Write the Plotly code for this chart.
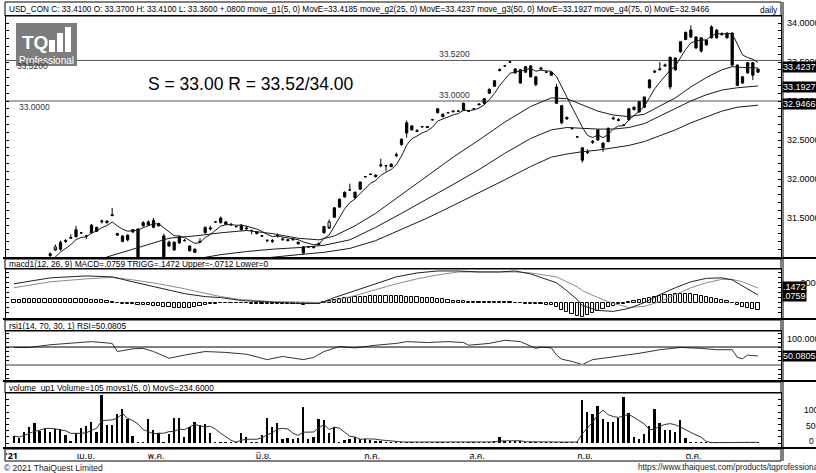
import plotly.graph_objects as go
import pandas as pd

W, H = 816, 473


def px(x):
    return x / W


def py(y):
    return 1 - y / H


# ---------------- data ----------------
opens = [30.76, 30.78, 30.83, 30.84, 30.88, 30.90, 30.94, 31.02, 31.13, 31.10,
         31.20, 31.24, 31.26, 31.31, 31.27, 31.31, 31.33, 31.45, 31.44, 31.53,
         31.28, 31.20, 31.22, 31.32, 30.90, 31.40, 31.41, 31.38, 31.40, 30.90,
         31.14, 31.09, 31.18, 31.21, 31.08, 31.06, 31.19, 31.31, 31.36, 31.45,
         31.44, 31.42, 31.41, 31.39, 31.35, 31.36, 31.34, 31.30, 31.27, 31.21,
         31.20, 31.27, 31.22, 31.21, 31.22, 31.17, 31.05, 31.13, 31.12, 31.16,
         31.31, 31.45, 31.51, 31.64, 31.77, 31.86, 31.76, 31.87, 32.03, 32.06,
         32.03, 32.17, 32.17, 32.16, 32.30, 32.44, 32.59, 32.63, 32.61, 32.67,
         32.66, 32.76, 32.85, 32.80, 32.85, 32.86, 32.87, 32.88, 32.87, 32.90,
         32.95, 32.97, 33.10, 33.19, 33.39, 33.45, 33.50, 33.36, 33.23, 33.37,
         33.31, 33.21, 33.41, 33.37, 33.33, 32.97, 32.72, 32.77, 32.65, 32.54,
         32.24, 32.34, 32.47, 32.50, 32.40, 32.48, 32.77, 32.75, 32.69, 32.76,
         32.89, 32.86, 32.92, 33.17, 33.37, 33.40, 33.45, 33.18, 33.40, 33.63,
         33.79, 33.82, 33.68, 33.64, 33.72, 33.81, 33.81, 33.85, 33.81, 33.46,
         33.20, 33.23, 33.36, 33.33, 33.37]
highs = [30.80, 30.84, 30.86, 30.89, 30.92, 30.95, 30.98, 31.06, 31.16, 31.21,
         31.23, 31.29, 31.40, 31.32, 31.28, 31.42, 31.39, 31.48, 31.47, 31.63,
         31.31, 31.28, 31.29, 31.36, 31.37, 31.46, 31.47, 31.50, 31.44, 31.30,
         31.21, 31.20, 31.28, 31.23, 31.15, 31.11, 31.24, 31.39, 31.40, 31.46,
         31.52, 31.46, 31.43, 31.40, 31.42, 31.40, 31.35, 31.33, 31.28, 31.23,
         31.23, 31.30, 31.25, 31.23, 31.24, 31.20, 31.14, 31.14, 31.14, 31.19,
         31.40, 31.48, 31.64, 31.75, 31.84, 31.94, 31.84, 31.97, 32.04, 32.07,
         32.06, 32.26, 32.18, 32.20, 32.34, 32.52, 32.75, 32.69, 32.64, 32.68,
         32.68, 32.77, 32.91, 32.84, 32.86, 32.88, 32.88, 32.98, 32.88, 32.91,
         32.97, 33.04, 33.16, 33.27, 33.42, 33.46, 33.51, 33.42, 33.41, 33.45,
         33.46, 33.32, 33.44, 33.38, 33.38, 33.22, 32.95, 32.80, 32.66, 32.55,
         32.41, 32.38, 32.50, 32.64, 32.47, 32.66, 32.80, 32.78, 32.70, 32.91,
         32.93, 33.00, 33.06, 33.28, 33.40, 33.50, 33.48, 33.57, 33.56, 33.77,
         33.89, 33.97, 33.83, 33.82, 33.79, 33.97, 33.92, 33.88, 33.88, 33.88,
         33.47, 33.32, 33.50, 33.50, 33.41]
lows = [30.74, 30.77, 30.80, 30.83, 30.86, 30.89, 30.93, 31.00, 31.08, 31.08,
        31.18, 31.24, 31.25, 31.30, 31.23, 31.30, 31.32, 31.43, 31.43, 31.53,
        31.27, 31.19, 31.20, 31.31, 30.88, 31.39, 31.40, 31.37, 31.39, 30.88,
        31.13, 31.08, 31.17, 31.20, 31.07, 31.05, 31.18, 31.30, 31.34, 31.44,
        31.43, 31.41, 31.40, 31.38, 31.34, 31.35, 31.29, 31.29, 31.26, 31.19,
        31.18, 31.25, 31.21, 31.20, 31.21, 31.16, 31.03, 31.12, 31.11, 31.15,
        31.30, 31.36, 31.50, 31.63, 31.76, 31.85, 31.75, 31.86, 32.02, 32.05,
        32.02, 32.15, 32.10, 32.15, 32.28, 32.43, 32.53, 32.62, 32.60, 32.66,
        32.66, 32.75, 32.84, 32.79, 32.84, 32.86, 32.86, 32.87, 32.86, 32.89,
        32.95, 32.96, 33.09, 33.18, 33.38, 33.44, 33.49, 33.35, 33.22, 33.36,
        33.30, 33.19, 33.40, 33.36, 33.32, 32.96, 32.70, 32.76, 32.63, 32.53,
        32.21, 32.32, 32.45, 32.49, 32.35, 32.47, 32.76, 32.74, 32.68, 32.75,
        32.88, 32.85, 32.91, 33.16, 33.36, 33.39, 33.44, 33.15, 33.39, 33.62,
        33.78, 33.81, 33.67, 33.62, 33.71, 33.80, 33.80, 33.84, 33.80, 33.44,
        33.19, 33.22, 33.35, 33.27, 33.36]
closes = [30.78, 30.83, 30.84, 30.88, 30.90, 30.94, 30.97, 31.04, 31.09, 31.19,
          31.21, 31.25, 31.35, 31.31, 31.27, 31.41, 31.38, 31.46, 31.46, 31.54,
          31.30, 31.27, 31.28, 31.35, 31.36, 31.44, 31.45, 31.47, 31.43, 31.27,
          31.19, 31.19, 31.26, 31.21, 31.14, 31.10, 31.20, 31.38, 31.37, 31.45,
          31.50, 31.45, 31.42, 31.39, 31.41, 31.37, 31.34, 31.32, 31.27, 31.21,
          31.21, 31.28, 31.23, 31.22, 31.23, 31.19, 31.13, 31.13, 31.13, 31.17,
          31.39, 31.37, 31.63, 31.74, 31.83, 31.86, 31.83, 31.96, 32.03, 32.06,
          32.05, 32.18, 32.17, 32.19, 32.31, 32.51, 32.72, 32.68, 32.62, 32.67,
          32.67, 32.76, 32.90, 32.83, 32.85, 32.87, 32.87, 32.97, 32.87, 32.90,
          32.96, 33.03, 33.15, 33.26, 33.40, 33.45, 33.50, 33.41, 33.40, 33.44,
          33.45, 33.31, 33.42, 33.37, 33.37, 33.18, 32.94, 32.79, 32.65, 32.54,
          32.40, 32.35, 32.48, 32.63, 32.46, 32.65, 32.78, 32.76, 32.69, 32.90,
          32.92, 32.99, 33.05, 33.27, 33.38, 33.41, 33.46, 33.56, 33.55, 33.76,
          33.88, 33.91, 33.82, 33.81, 33.78, 33.95, 33.91, 33.86, 33.87, 33.87,
          33.46, 33.31, 33.49, 33.49, 33.41]
volumes = [2260, 1610, 3550, 5160, 6450, 3870, 4520, 3550, 4520, 4520,
           2580, 400, 3230, 4840, 5480, 6770, 3550, 15480, 5810, 5810,
           9350, 10970, 7740, 2260, 300, 300, 7740, 4190, 3230, 300,
           2900, 8060, 8060, 1940, 5160, 6770, 5810, 6130, 3230, 300,
           300, 300, 300, 300, 3230, 1940, 300, 300, 2580, 8060,
           5160, 6450, 1290, 1610, 1290, 1610, 11610, 1290, 1940, 7740,
           7420, 3230, 5160, 320, 970, 1290, 1940, 1290, 1290, 970,
           650, 650, 320, 300, 300, 300, 300, 300, 300, 300,
           300, 300, 300, 300, 300, 300, 300, 300, 300, 300,
           300, 300, 300, 500, 1940, 500, 400, 400, 400, 300,
           300, 300, 300, 300, 300, 300, 300, 300, 300, 300,
           13870, 10000, 9350, 11940, 7740, 6770, 6770, 8060, 14840, 9680,
           1940, 1290, 2900, 5480, 10970, 6450, 4190, 4190, 3550, 7420,
           1610, 200, 150, 100, 150, 120, 100, 300, 250, 300,
           250, 300, 200, 318, 105]
bars = list(range(len(closes)))

# moving-average lines (bar index, value)
ema25_idx = [14, 18, 22, 26, 30, 35, 40, 45, 50, 55, 59, 62, 66, 70, 75, 80, 85, 90, 95,
             100, 104, 107, 110, 113, 116, 119, 122, 125, 128, 131, 134, 137, 139, 141, 144]
ema25_val = [30.92, 31.00, 31.09, 31.17, 31.24, 31.27, 31.31, 31.34, 31.30, 31.24, 31.22,
             31.27, 31.40, 31.56, 31.80, 32.04, 32.28, 32.50, 32.73, 32.93, 33.04, 33.03,
             32.95, 32.87, 32.82, 32.80, 32.83, 32.93, 33.04, 33.18, 33.30, 33.40, 33.44,
             33.43, 33.4237]
ema50_idx = [33, 37, 40, 45, 50, 55, 60, 65, 70, 75, 80, 85, 90, 95, 100, 104, 107, 110,
             113, 116, 119, 122, 125, 128, 131, 134, 137, 140, 144]
ema50_val = [30.95, 31.00, 31.03, 31.07, 31.10, 31.12, 31.15, 31.22, 31.38, 31.56, 31.74,
             31.93, 32.12, 32.33, 32.52, 32.63, 32.66, 32.65, 32.64, 32.64, 32.66, 32.71,
             32.81, 32.91, 33.00, 33.08, 33.14, 33.17, 33.1927]
ema75_idx = [46, 50, 55, 60, 65, 70, 75, 80, 85, 90, 95, 100, 104, 107, 110, 113, 116, 119,
             122, 125, 128, 131, 134, 137, 140, 144]
ema75_val = [30.97, 31.00, 31.03, 31.06, 31.11, 31.21, 31.35, 31.50, 31.66, 31.82, 31.99,
             32.16, 32.28, 32.32, 32.35, 32.37, 32.40, 32.43, 32.48, 32.55, 32.63, 32.72,
             32.80, 32.87, 32.92, 32.9466]

# MACD panel
macd_idx = [0, 7, 14, 19, 23, 28, 33, 37, 40, 44, 50, 55, 59, 62, 66, 70, 74, 78, 82, 86,
            90, 94, 97, 100, 103, 105, 107, 109, 110, 113, 116, 119, 122, 125, 128, 131,
            134, 137, 139, 141, 144]
macd_val = [0.19, 0.25, 0.27, 0.26, 0.21, 0.15, 0.09, 0.06, 0.05, 0.02, 0.00, -0.01, -0.01,
            0.05, 0.12, 0.19, 0.26, 0.30, 0.32, 0.32, 0.31, 0.31, 0.32, 0.29, 0.24, 0.20,
            0.12, 0.03, -0.03, -0.08, -0.09, -0.06, 0.00, 0.08, 0.15, 0.21, 0.245, 0.25,
            0.23, 0.17, 0.0759]
trigg_val = [0.15, 0.21, 0.24, 0.255, 0.23, 0.19, 0.14, 0.09, 0.06, 0.03, 0.01, 0.005, 0.00,
             0.02, 0.07, 0.13, 0.19, 0.24, 0.28, 0.31, 0.31, 0.31, 0.31, 0.30, 0.28, 0.26,
             0.21, 0.16, 0.12, 0.05, -0.01, -0.05, -0.04, 0.01, 0.08, 0.15, 0.20, 0.235,
             0.235, 0.21, 0.1472]
macd_hist = [0.03, 0.03, 0.035, 0.035, 0.04, 0.04,
             0.04, 0.04, 0.04, 0.04, 0.04, 0.04, 0.04,
             0.035, 0.035, 0.03, 0.03, 0.025, 0.02, 0.01, 0.0,
             -0.01, -0.015, -0.02, -0.025, -0.03, -0.03, -0.035, -0.04, -0.045, -0.05,
             -0.055, -0.06, -0.06, -0.055, -0.05,
             -0.04, -0.03, -0.02, -0.01,
             0, 0, 0, 0, 0,
             -0.005, -0.01, -0.01, -0.015, -0.015, -0.02, -0.02, -0.02, -0.02, -0.02,
             -0.02, -0.025, -0.02, -0.02, -0.01,
             0.01, 0.02, 0.03, 0.04, 0.05, 0.05, 0.06, 0.06, 0.06, 0.065, 0.07, 0.07,
             0.07, 0.07, 0.065, 0.065,
             0.06, 0.06, 0.055, 0.05, 0.05, 0.045, 0.04, 0.035, 0.03,
             0.02, 0.02, 0.015, 0.01, 0.01, 0.01, 0.005, 0.005, 0.005, 0.005, 0.005,
             0.005, 0.0,
             -0.005, -0.01, -0.01, -0.015, -0.02, -0.025, -0.03,
             -0.05, -0.08, -0.10, -0.12, -0.14, -0.15, -0.13,
             -0.11, -0.09, -0.07, -0.05, -0.035, -0.02, -0.01,
             0.01, 0.02, 0.03, 0.04, 0.05, 0.06,
             0.07, 0.075, 0.08, 0.085, 0.09, 0.09, 0.085, 0.08, 0.07,
             0.06, 0.05, 0.04, 0.03, 0.015, 0.0,
             -0.03, -0.045, -0.055, -0.065, -0.0713]

# RSI panel
rsi_idx = [0, 3, 7, 12, 15, 19, 20, 23, 25, 27, 30, 33, 37, 41, 45, 49, 52, 56, 58, 60,
           63, 66, 70, 74, 76, 80, 84, 87, 88, 92, 95, 98, 101, 102, 104, 105, 106, 108,
           110, 112, 117, 121, 125, 129, 133, 136, 139, 140, 141, 142, 143, 144]
rsi_val = [69, 69, 75, 80, 82, 78, 60, 66, 67, 60, 45, 52, 60, 58, 54, 42, 49, 42, 47, 60,
           71, 68, 74, 78, 82, 80, 82, 80, 74, 78, 85, 82, 67, 70, 68, 52, 43, 38,
           31, 42, 49, 56, 64, 69, 67, 64, 64, 47, 44, 52, 51, 50.08]

# axis labels (bar index positions of the month labels)
month_pos = [-0.45, 13.9, 27.5, 48.3, 69.3, 89.6, 110.5, 131.5]
month_text = ["<b>'21</b>", "เม.ย.", "พ.ค.", "มิ.ย.", "ก.ค.", "ส.ค.", "ก.ย.", "ต.ค."]
price_ticks = [34.0, 33.5, 33.0, 32.5, 32.0, 31.5]
support, resistance = 33.00, 33.52

# ---------------- derived lines (chart definitions) ----------------
ema5 = pd.Series(closes).ewm(span=5, adjust=False).mean().tolist()
vol_ma5 = pd.Series(volumes).rolling(5, min_periods=1).mean().tolist()

# ---------------- figure ----------------
FN = "Liberation Sans, Arial, sans-serif"
FA = "Liberation Sans, Arial, sans-serif"
LINE = "#1a1a1a"
X_RANGE = [-1.548, 148.45]

fig = go.Figure()

fig.add_trace(go.Candlestick(
    x=bars, open=opens, high=highs, low=lows, close=closes,
    increasing=dict(line=dict(color="black", width=1), fillcolor="black"),
    decreasing=dict(line=dict(color="black", width=1), fillcolor="white"),
    whiskerwidth=0, xaxis="x", yaxis="y", hoverinfo="skip", showlegend=False))
fig.add_trace(go.Scatter(x=bars, y=ema5, mode="lines", line=dict(color=LINE, width=1),
                         xaxis="x", yaxis="y", hoverinfo="skip"))
for ix, vals in ((ema25_idx, ema25_val), (ema50_idx, ema50_val), (ema75_idx, ema75_val)):
    fig.add_trace(go.Scatter(x=ix, y=vals, mode="lines", line=dict(color=LINE, width=1),
                             xaxis="x", yaxis="y", hoverinfo="skip"))

# MACD
fig.add_trace(go.Bar(x=bars, y=macd_hist, width=0.62,
                     marker=dict(color="white", line=dict(color="black", width=1)),
                     xaxis="x2", yaxis="y2", hoverinfo="skip"))
fig.add_trace(go.Scatter(x=macd_idx, y=trigg_val, mode="lines", line=dict(color="#8c8c8c", width=1),
                         xaxis="x2", yaxis="y2", hoverinfo="skip"))
fig.add_trace(go.Scatter(x=macd_idx, y=macd_val, mode="lines", line=dict(color="#222", width=1),
                         xaxis="x2", yaxis="y2", hoverinfo="skip"))

# RSI
fig.add_trace(go.Scatter(x=rsi_idx, y=rsi_val, mode="lines", line=dict(color="#333", width=1),
                         xaxis="x3", yaxis="y3", hoverinfo="skip"))

# Volume
fig.add_trace(go.Bar(x=bars, y=volumes, width=0.36, marker=dict(color="black", line=dict(width=0)),
                     xaxis="x4", yaxis="y4", hoverinfo="skip"))
fig.add_trace(go.Scatter(x=bars, y=vol_ma5, mode="lines", line=dict(color="#333", width=1),
                         xaxis="x4", yaxis="y4", hoverinfo="skip"))


def xa(anchor, **kw):
    d = dict(domain=[px(6), px(781)], range=X_RANGE, showline=True, linecolor="black", linewidth=1,
             mirror=True, ticks="", showticklabels=False, showgrid=False, zeroline=False,
             anchor=anchor, fixedrange=True)
    d.update(kw)
    return d


def ya(top, bottom, rng, dtick, tick0, **kw):
    d = dict(domain=[py(bottom), py(top)], range=rng, showline=True, linecolor="black", linewidth=1,
             mirror="ticks", ticks="inside", ticklen=3, tickcolor="black", dtick=dtick, tick0=tick0,
             showticklabels=False, showgrid=False, zeroline=False, side="right", fixedrange=True)
    d.update(kw)
    return d


fig.update_layout(
    width=W, height=H, margin=dict(l=0, r=0, t=0, b=0),
    paper_bgcolor="white", plot_bgcolor="white", showlegend=False, boxgap=0.38,
    bargap=0,
    xaxis=xa("y", rangeslider=dict(visible=False)),
    yaxis=ya(16, 257, [31.0, 34.0897], 0.1, 31.0, anchor="x"),
    xaxis2=xa("y2", matches="x"),
    yaxis2=ya(269, 318, [-0.157, 0.340], 0.05, 0.0, anchor="x2"),
    xaxis3=xa("y3", matches="x"),
    yaxis3=ya(331, 380, [-3.3, 105.6], 10, 0, anchor="x3"),
    xaxis4=xa("y4", matches="x", tickvals=month_pos, ticktext=month_text, showticklabels=True,
              tickfont=dict(family="Noto Sans Thai, Loma, Tahoma, sans-serif", size=9, color="black")),
    yaxis4=ya(393, 447, [-1290, 16130], 2000, 0, anchor="x4"),
)

shapes = []


def hline_px(y, x0=3, x1=816, w=1, color="black"):
    shapes.append(dict(type="line", xref="paper", yref="paper", x0=px(x0), x1=px(x1), y0=py(y), y1=py(y),
                       line=dict(color=color, width=w)))


def rect_px(x0, y0, x1, y1, fill=None, lc="black", lw=1, layer="above"):
    shapes.append(dict(type="rect", xref="paper", yref="paper", x0=px(x0), x1=px(x1), y0=py(y1), y1=py(y0),
                       fillcolor=fill if fill else "rgba(0,0,0,0)", line=dict(color=lc, width=lw), layer=layer))


# support / resistance lines
for lvl in (resistance, support):
    shapes.append(dict(type="line", xref="paper", yref="y", x0=px(6), x1=px(781), y0=lvl, y1=lvl,
                       line=dict(color="#555", width=1), layer="below"))
# title boxes
rect_px(5, 2, 781, 16)
rect_px(5, 259, 781, 269)
rect_px(5, 320, 781, 331)
rect_px(5, 382, 781, 393)
rect_px(5, 449, 781, 461)
# separators
for yy in (258, 319, 381, 448):
    hline_px(yy, 3, 816, 2)
# right column divider
shapes.append(dict(type="line", xref="paper", yref="paper", x0=px(783), x1=px(783), y0=py(461), y1=py(2),
                   line=dict(color="black", width=1)))
# RSI reference lines
for lvl, col, wd in ((70, "black", 1), (30, "#9a9a9a", 2)):
    shapes.append(dict(type="line", xref="paper", yref="y3", x0=px(6), x1=px(781), y0=lvl, y1=lvl,
                       line=dict(color=col, width=wd)))
# logo
rect_px(16, 23, 77, 66, fill="#7d7d7d", lc="#7d7d7d", lw=0)
rect_px(49, 40, 55, 52, fill="white", lc="white", lw=0)
rect_px(57, 33, 63, 52, fill="white", lc="white", lw=0)
rect_px(65, 27, 71, 52, fill="white", lc="white", lw=0)
fig.update_layout(shapes=shapes)

ann = []


def text(x, y, s, size=10, family=FN, color="black", anchor="left", bg=None, bold=False):
    ann.append(dict(x=px(x), y=py(y), xref="paper", yref="paper", text=("<b>%s</b>" % s) if bold else s,
                    showarrow=False, xanchor=anchor, yanchor="middle",
                    font=dict(size=size, family=family, color=color),
                    bgcolor=bg, borderpad=0))


text(8, 9.5, "USD_CON C: 33.4100 O: 33.3700 H: 33.4100 L: 33.3600 +.0800 move_g1(5, 0) MovE=33.4185 "
     "move_g2(25, 0) MovE=33.4237 move_g3(50, 0) MovE=33.1927 move_g4(75, 0) MovE=32.9466", 8.2)
text(779, 9.5, "daily", 8.4, anchor="right")
text(8, 264, "macd1(12, 26, 9) MACD=.0759 TRIGG=.1472 Upper=-.0712 Lower=0", 8.4)
text(8, 325.5, "rsi1(14, 70, 30, 1) RSI=50.0805", 8.4)
text(8, 387.5, "volume_up1 Volume=105 movs1(5, 0) MovS=234.6000", 8.4)

# logo text
text(21, 42, "TQ", 19, family=FA, color="white", bold=True)
text(18, 60, "Professional", 10, family=FA, color="white")

# level labels
text(16, 66, "33.5200", 8.5, family=FA, color="#333")
text(18, 107, "33.0000", 8.5, family=FA, color="#333")
text(438, 54, "33.5200", 8.5, family=FA, color="#333")
text(438, 95, "33.0000", 8.5, family=FA, color="#333")
text(251, 84, "S = 33.00 R = 33.52/34.00", 17.5, family=FA, anchor="center")

# right axis labels
for v in price_ticks:
    yy = 23 + (34.0 - v) * 78
    text(786, max(yy, 19), "%.4f" % v, 9)
text(782, 67, "33.4237", 9, color="white", bg="black")
text(782, 87, "33.1927", 9, color="white", bg="black")
text(782, 104, "32.9466", 9, color="white", bg="black")
text(797, 283, ".2000", 9)
text(782, 287, ".1472", 9, color="white", bg="black")
text(782, 295.5, ".0759", 9, color="white", bg="black")
text(786, 339, "100.0000", 9)
text(782, 356, "50.0805", 9, color="white", bg="black")
text(803, 410, "10000", 8.5)
text(805, 426, "5000", 8.5)
text(808, 441, "0", 8.5)

# footer
text(3, 467.5, "© 2021 ThaiQuest Limited", 8.5, family=FA, color="#222")
text(637, 467.5, "https://www.thaiquest.com/products/tqprofessional", 8.2, family=FA, color="#222")

fig.update_layout(annotations=ann)
fig.write_html("out.html", config={"displayModeBar": False},
               post_script="document.body.style.margin='0';document.body.style.padding='0';")
